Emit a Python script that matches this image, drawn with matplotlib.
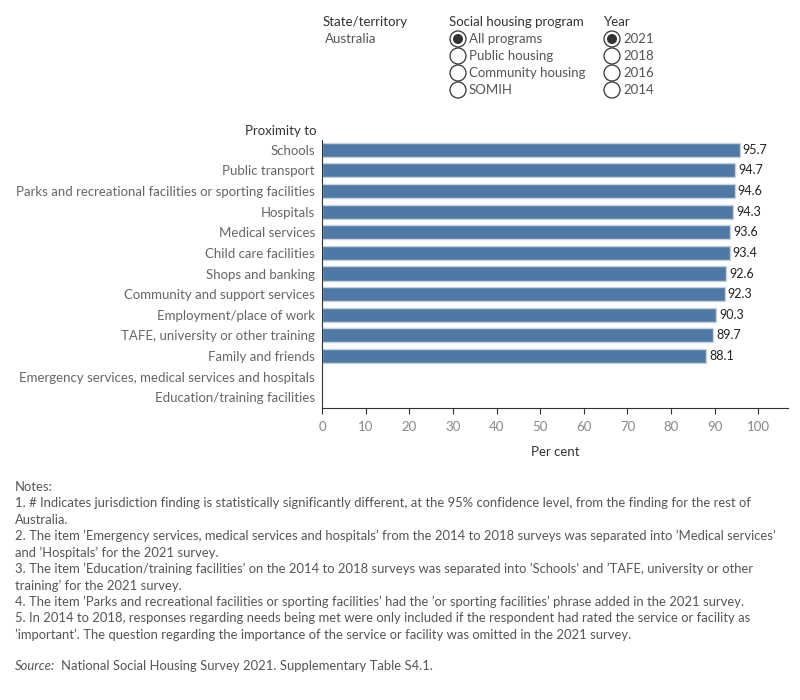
import matplotlib.pyplot as plt
from matplotlib.patches import Circle

categories = ['Schools', 'Public transport',
              'Parks and recreational facilities or sporting facilities',
              'Hospitals', 'Medical services', 'Child care facilities',
              'Shops and banking', 'Community and support services',
              'Employment/place of work', 'TAFE, university or other training',
              'Family and friends',
              'Emergency services, medical services and hospitals',
              'Education/training facilities']
values = [95.7, 94.7, 94.6, 94.3, 93.6, 93.4, 92.6, 92.3, 90.3, 89.7, 88.1, None, None]
xticks = [0, 10, 20, 30, 40, 50, 60, 70, 80, 90, 100]

programs = ['All programs', 'Public housing', 'Community housing', 'SOMIH']
years = ['2021', '2018', '2016', '2014']

notes = [
    "Notes:",
    "1. # Indicates jurisdiction finding is statistically significantly different, at the 95% confidence level, from the finding for the rest of",
    "Australia.",
    "2. The item \u2019Emergency services, medical services and hospitals\u2019 from the 2014 to 2018 surveys was separated into \u2019Medical services\u2019",
    "and \u2019Hospitals\u2019 for the 2021 survey.",
    "3. The item \u2019Education/training facilities\u2019 on the 2014 to 2018 surveys was separated into \u2019Schools\u2019 and \u2019TAFE, university or other",
    "training\u2019 for the 2021 survey.",
    "4. The item \u2019Parks and recreational facilities or sporting facilities\u2019 had the \u2019or sporting facilities\u2019 phrase added in the 2021 survey.",
    "5. In 2014 to 2018, responses regarding needs being met were only included if the respondent had rated the service or facility as",
    "\u2019important\u2019. The question regarding the importance of the service or facility was omitted in the 2021 survey.",
]

plt.rcParams['font.family'] = ['Lato', 'DejaVu Sans']
W, H = 800, 700
fig = plt.figure(figsize=(8, 7), dpi=100)
ax = fig.add_axes([322 / W, 1 - 407.5 / H, 466 / W, 268 / H])

ypos = list(range(len(categories)))
for y, v in zip(ypos, values):
    if v is None:
        continue
    ax.barh(y, v, height=0.68, color='#4e79a7', edgecolor='#c9d1da', linewidth=1)
    ax.text(v + 0.7, y, f'{v:.1f}', va='center', ha='left', fontsize=9, color='#222222')

ax.set_ylim(len(categories) - 0.5, -0.5)
ax.set_xlim(0, 106.8)
ax.set_yticks(ypos)
ax.set_yticklabels(categories, fontsize=9.5, color='#666666')
ax.set_xticks(xticks)
ax.set_xticklabels([str(t) for t in xticks], fontsize=9.5, color='#888888')
ax.tick_params(axis='y', length=0, pad=5)
ax.tick_params(axis='x', length=4, color='#333333', pad=6)
for s in ['top', 'right']:
    ax.spines[s].set_visible(False)
ax.spines['left'].set_color('#333333')
ax.spines['bottom'].set_color('#333333')
ax.set_xlabel('Per cent', fontsize=9.5, color='#333333', labelpad=9)

fig.text(245 / W, 1 - 131 / H, 'Proximity to', fontsize=9.5, color='#333333', va='center')

# filter panel
fig.text(323 / W, 1 - 22 / H, 'State/territory', fontsize=9.5, color='#333333', va='center')
fig.text(325 / W, 1 - 39 / H, 'Australia', fontsize=9.5, color='#555555', va='center')
fig.text(449 / W, 1 - 22 / H, 'Social housing program', fontsize=9.5, color='#333333', va='center')
fig.text(604 / W, 1 - 22 / H, 'Year', fontsize=9.5, color='#333333', va='center')

def radio(x, y, label, on):
    fig.patches.append(Circle((x, y), 8, transform=None, facecolor='white',
                              edgecolor='#333333', linewidth=0.9))
    if on:
        fig.patches.append(Circle((x, y), 5, transform=None, facecolor='#333333',
                                  edgecolor='none'))
    fig.text((x + 11) / W, y / H, label, fontsize=9.5, color='#555555', va='center')

for i, p in enumerate(programs):
    radio(458, H - (39 + 17 * i), p, i == 0)
for i, yr in enumerate(years):
    radio(612, H - (39 + 17 * i), yr, i == 0)

for i, line in enumerate(notes):
    fig.text(15 / W, 1 - (487 + 16.4 * i) / H, line, fontsize=9.4, color='#555555', va='center')
fig.text(15 / W, 1 - 666 / H, 'Source:', fontsize=9.4, color='#555555', va='center', style='italic')
fig.text(61 / W, 1 - 666 / H, 'National Social Housing Survey 2021. Supplementary Table S4.1.',
         fontsize=9.4, color='#555555', va='center')

fig.savefig('out.png', dpi=100)
